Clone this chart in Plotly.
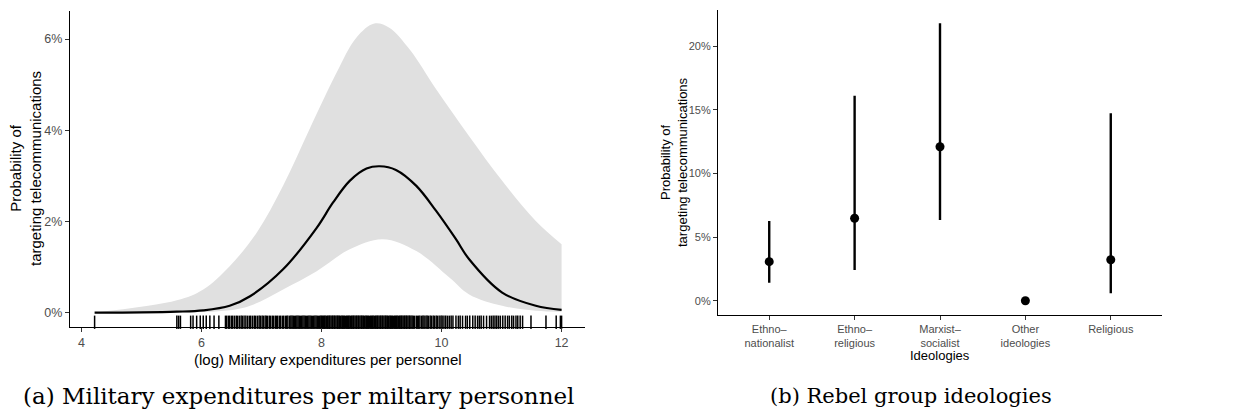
import plotly.graph_objects as go

# ---------------- Data: panel (a) ----------------
fit_x = [4.22, 5.0, 5.59, 6.03, 6.47, 6.81, 7.36, 7.92, 8.19, 8.47, 8.75, 8.97, 9.24, 9.58, 9.91, 10.24, 10.46, 11.01, 11.57, 12.0]
fit_y = [0.0, 0.005, 0.02, 0.05, 0.15, 0.36, 0.95, 1.86, 2.41, 2.89, 3.16, 3.21, 3.13, 2.78, 2.23, 1.61, 1.17, 0.44, 0.15, 0.06]

upper_x = [4.22, 5.59, 6.03, 6.47, 6.92, 7.36, 7.80, 8.25, 8.58, 8.88, 9.13, 9.47, 9.91, 10.46, 11.01, 11.57, 12.0]
upper_y = [0.0, 0.27, 0.51, 1.02, 1.75, 2.78, 4.02, 5.26, 6.03, 6.34, 6.25, 5.77, 4.90, 3.87, 2.89, 2.01, 1.50]

lower_x = [4.22, 5.59, 6.47, 6.81, 7.36, 7.92, 8.47, 9.02, 9.58, 10.13, 10.46, 11.01, 11.57, 12.0]
lower_y = [0.0, 0.0, 0.05, 0.15, 0.51, 0.91, 1.39, 1.61, 1.35, 0.77, 0.40, 0.15, 0.04, 0.02]

rug_x = [
    4.22, 5.59, 5.62, 5.65, 5.82, 5.86, 5.92, 5.98, 6.03, 6.08, 6.14, 6.21, 6.29,
    6.40, 6.42, 6.45, 6.47, 6.50, 6.52, 6.55, 6.58, 6.60, 6.63, 6.66, 6.68, 6.71, 6.74,
    6.77, 6.80, 6.82, 6.85, 6.88, 6.90, 6.93, 6.96, 6.98,
    7.01, 7.03, 7.06, 7.08, 7.10, 7.13, 7.15, 7.18, 7.20, 7.23, 7.25, 7.27, 7.30, 7.32,
    7.35, 7.37, 7.40, 7.42, 7.44, 7.47, 7.49,
    7.51, 7.53, 7.55, 7.57, 7.59, 7.61, 7.63, 7.65, 7.67, 7.69, 7.71, 7.73, 7.75, 7.77,
    7.79, 7.81, 7.83, 7.85, 7.87, 7.89, 7.91, 7.93, 7.95, 7.97, 7.99,
    8.00, 8.02, 8.03, 8.05, 8.06, 8.08, 8.10, 8.11, 8.13, 8.14, 8.16, 8.18, 8.19, 8.21,
    8.22, 8.24, 8.26, 8.27, 8.29, 8.30, 8.32, 8.34, 8.35, 8.37, 8.38, 8.40, 8.42, 8.43,
    8.45, 8.46, 8.48, 8.50, 8.51, 8.53, 8.54, 8.56, 8.58, 8.59, 8.61, 8.62, 8.64, 8.66,
    8.67, 8.69, 8.70, 8.72, 8.74, 8.75, 8.77, 8.78, 8.80, 8.82, 8.83, 8.85, 8.86, 8.88,
    8.90, 8.91, 8.93, 8.94, 8.96, 8.98, 8.99, 9.01, 9.02, 9.04, 9.06, 9.07, 9.09, 9.10,
    9.12, 9.14, 9.15, 9.17, 9.18, 9.20, 9.22, 9.23, 9.25, 9.26, 9.28, 9.30, 9.31, 9.33,
    9.34, 9.36, 9.38, 9.39, 9.41, 9.42, 9.44, 9.46, 9.47, 9.49,
    9.51, 9.53, 9.55, 9.58, 9.60, 9.62, 9.64, 9.67, 9.69, 9.71, 9.74, 9.76, 9.78, 9.81,
    9.83, 9.86, 9.88, 9.91, 9.93, 9.96, 9.99, 10.01, 10.04, 10.07, 10.10, 10.13, 10.16, 10.19,
    10.24, 10.28, 10.31, 10.35, 10.40, 10.43, 10.47, 10.52, 10.56, 10.60, 10.63, 10.66,
    10.70, 10.75, 10.80, 10.83, 10.86, 10.89, 10.92, 10.95, 10.98, 11.02, 11.06, 11.10,
    11.13, 11.17, 11.20, 11.24, 11.27, 11.31, 11.35,
    11.49, 11.74, 11.91, 11.98, 12.0,
]

x_ticks_a = [4, 6, 8, 10, 12]
y_ticks_a = [0, 2, 4, 6]
y_labels_a = ["0%", "2%", "4%", "6%"]

# ---------------- Data: panel (b) ----------------
ideologies = ["Ethno–<br>nationalist", "Ethno–<br>religious", "Marxist–<br>socialist",
              "Other<br>ideologies", "Religious"]
est = [3.07, 6.48, 12.10, 0.0, 3.22]
ci_low = [1.42, 2.41, 6.34, 0.0, 0.58]
ci_high = [6.27, 16.12, 21.80, 0.0, 14.73]
y_ticks_b = [0, 5, 10, 15, 20]
y_labels_b = ["0%", "5%", "10%", "15%", "20%"]

# ---------------- Layout constants ----------------
OFF = 8            # page body margin of the browser
W, H = 1238 - OFF, 413 - OFF


def px(xp):
    return (xp - OFF) / W


def py(yp):
    return 1 - (yp - OFF) / H


ya_range = [-0.315, 6.615]
yb_range = [-1.09, 22.89]

sans = "Liberation Sans, Arial, sans-serif"
tick_font_a = dict(family=sans, size=12.5, color="#4D4D4D")
tick_font_b = dict(family=sans, size=11, color="#4D4D4D")
title_font_a = dict(family=sans, size=15, color="black")
title_font_b = dict(family=sans, size=13, color="black")
cap_font_a = dict(family="DejaVu Serif, serif", size=23, color="black")
cap_font_b = dict(family="DejaVu Serif, serif", size=21, color="black")

fig = go.Figure()

# ribbon
fig.add_trace(go.Scatter(x=lower_x, y=lower_y, mode="lines", line=dict(width=0, shape="spline", smoothing=1.0),
                         xaxis="x", yaxis="y", hoverinfo="skip", showlegend=False))
fig.add_trace(go.Scatter(x=upper_x, y=upper_y, mode="lines", line=dict(width=0, shape="spline", smoothing=1.0),
                         fill="tonexty", fillcolor="#E0E0E0", xaxis="x", yaxis="y",
                         hoverinfo="skip", showlegend=False))
# fitted line
fig.add_trace(go.Scatter(x=fit_x, y=fit_y, mode="lines",
                         line=dict(color="black", width=2.2, shape="spline", smoothing=1.0),
                         xaxis="x", yaxis="y", showlegend=False))
# rug: vertical line markers sitting on the bottom of the panel (3% of panel height)
rug_mid = ya_range[0] + 0.015 * (ya_range[1] - ya_range[0])
fig.add_trace(go.Scatter(x=rug_x, y=[rug_mid] * len(rug_x), mode="markers",
                         marker=dict(symbol="line-ns", size=9.5, color="black",
                                     line=dict(color="black", width=1.5)),
                         xaxis="x", yaxis="y", hoverinfo="skip", showlegend=False, cliponaxis=False))

# panel (b) points with error bars
err_plus = [h - e for h, e in zip(ci_high, est)]
err_minus = [e - l for e, l in zip(est, ci_low)]
fig.add_trace(go.Scatter(x=ideologies, y=est, mode="markers",
                         marker=dict(color="black", size=9),
                         error_y=dict(type="data", symmetric=False, array=err_plus, arrayminus=err_minus,
                                      width=0, thickness=2.4, color="black"),
                         xaxis="x2", yaxis="y2", showlegend=False))

axis_common = dict(showline=True, linecolor="black", linewidth=1.1, ticks="outside", ticklen=4,
                   tickcolor="#333333", tickwidth=1, showgrid=False, zeroline=False)

fig.update_layout(
    width=W, height=H, margin=dict(l=0, r=0, t=0, b=0),
    plot_bgcolor="white", paper_bgcolor="white",
    xaxis=dict(domain=[px(70), px(585)], range=[3.81, 12.39], tickmode="array", tickvals=x_ticks_a,
               ticktext=[str(t) for t in x_ticks_a], tickfont=tick_font_a, anchor="y", **axis_common),
    yaxis=dict(domain=[py(327), py(11)], range=ya_range, tickmode="array", tickvals=y_ticks_a,
               ticktext=y_labels_a, tickfont=tick_font_a, anchor="x", **axis_common),
    xaxis2=dict(domain=[px(718), px(1162)], range=[-0.6, 4.6], type="category",
                tickfont=tick_font_b, anchor="y2", **axis_common),
    yaxis2=dict(domain=[py(314.6), py(9.5)], range=yb_range, tickmode="array", tickvals=y_ticks_b,
                ticktext=y_labels_b, tickfont=tick_font_b, anchor="x2", **axis_common),
)

annotations = [
    dict(text="(log) Military expenditures per personnel", x=px(327.5), y=py(359),
         font=title_font_a, xanchor="center", yanchor="middle"),
    dict(text="Probability of<br>targeting telecommunications", x=px(26), y=py(169),
         font=title_font_a, textangle=-90, xanchor="center", yanchor="middle"),
    dict(text="Ideologies", x=px(940), y=py(355),
         font=title_font_b, xanchor="center", yanchor="middle"),
    dict(text="Probability of<br>targeting telecommunications", x=px(674), y=py(162),
         font=title_font_b, textangle=-90, xanchor="center", yanchor="middle"),
    dict(text="(a) Military expenditures per miltary personnel", x=px(298), y=py(396),
         font=cap_font_a, xanchor="center", yanchor="middle"),
    dict(text="(b) Rebel group ideologies", x=px(911), y=py(396),
         font=cap_font_b, xanchor="center", yanchor="middle"),
]
for a in annotations:
    a.update(xref="paper", yref="paper", showarrow=False)
fig.update_layout(annotations=annotations)

fig.write_html("out.html")
